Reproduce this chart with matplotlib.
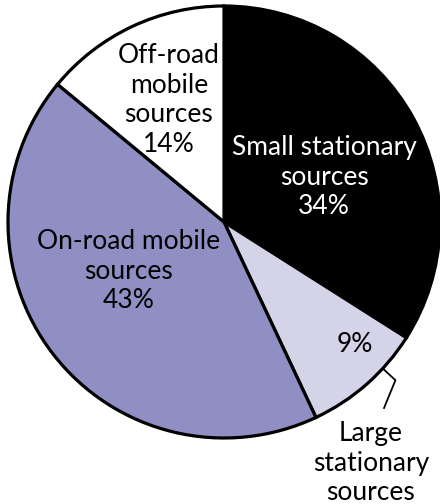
import numpy as np
import matplotlib.pyplot as plt

plt.rcParams["font.family"] = ["Lato", "DejaVu Sans"]

sources = ["Small stationary\nsources", "Large\nstationary\nsources",
           "On-road mobile\nsources", "Off-road\nmobile\nsources"]
shares = [34, 9, 43, 14]
colors = ["#000000", "#d4d3e8", "#8f8fc3", "#ffffff"]

# pie centre and radius in pixels, used to frame the axes
W, H = 440, 504
CX, CY, R = 224, 222, 216

fig = plt.figure(figsize=(W / 100, H / 100), dpi=100)
ax = fig.add_axes([0, 0, 1, 1])

wedges, _ = ax.pie(shares, colors=colors, startangle=90, counterclock=False,
                   radius=1.0, wedgeprops=dict(edgecolor="black", linewidth=2.3))

ax.set_xlim(-CX / R, (W - CX) / R)
ax.set_ylim(-(H - CY) / R, CY / R)
ax.set_aspect("equal")
ax.axis("off")

txt = dict(fontsize=19, ha="center", va="center", linespacing=1.22)
ax.text(0.463, 0.208, f"{sources[0]}\n{shares[0]}%", color="white", **txt)
ax.text(-0.255, 0.565, f"{sources[3]}\n{shares[3]}%", color="black", **txt)
ax.text(-0.44, -0.227, f"{sources[2]}\n{shares[2]}%", color="black", **txt)
ax.text(0.606, -0.569, f"{shares[1]}%", color="black", **txt)
ax.text(0.68, -1.116, sources[1], color="black", **txt)

# bracket-shaped leader from the small wedge to its outside label
t = np.deg2rad(-42.7)
lx = [np.cos(t), 1.08 * np.cos(t), 0.741]
ly = [np.sin(t), 1.08 * np.sin(t), -0.861]
ax.plot(lx, ly, color="black", linewidth=1.3)

fig.savefig("out.png", dpi=100)
